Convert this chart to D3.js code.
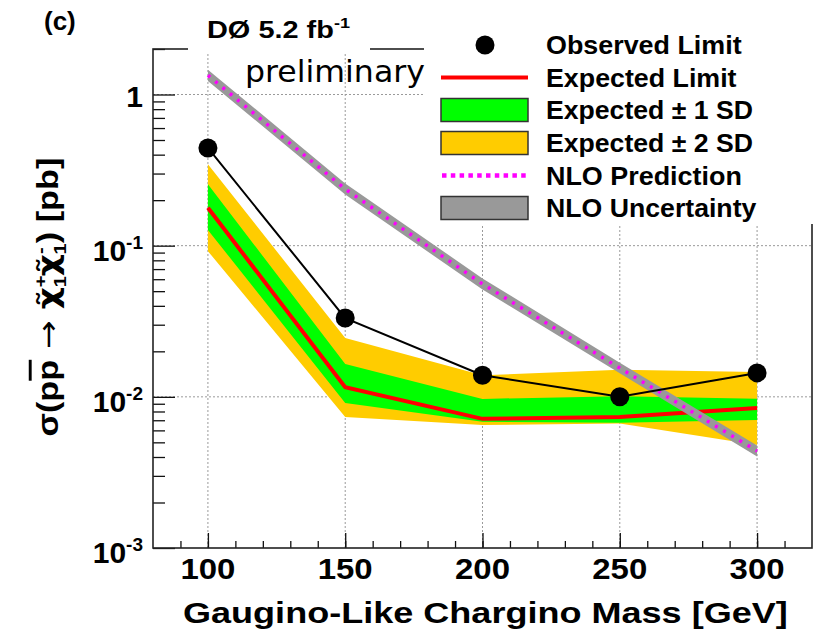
<!DOCTYPE html>
<html>
<head>
<meta charset="utf-8">
<script src="https://cdn.jsdelivr.net/npm/d3@7"></script>
<style>
  html, body { margin: 0; padding: 0; background: #fff; }
  svg { display: block; }
  text { font-family: "Liberation Sans", Arial, Helvetica, sans-serif; }
</style>
</head>
<body>
<svg id="chart" width="817" height="629"></svg>
<script>
// Chargino mass points [GeV]
const masses = [100, 150, 200, 250, 300];
// 95% CL cross-section limits [pb]
const observed  = [0.443, 0.0332, 0.0139, 0.0100, 0.0144];
const expected  = [0.178, 0.0116, 0.00715, 0.00736, 0.00845];
const sd1Low    = [0.127, 0.00912, 0.00683, 0.00673, 0.00703];
const sd1High   = [0.255, 0.0165, 0.00969, 0.0101, 0.0097];
const sd2Low    = [0.092, 0.00736, 0.00652, 0.00665, 0.00481];
const sd2High   = [0.346, 0.0245, 0.0139, 0.0151, 0.0146];
// NLO theory prediction and its uncertainty band [pb]
const nlo       = [1.34, 0.237, 0.0558, 0.0155, 0.00438];
const nloLow    = [1.23, 0.218, 0.0513, 0.0143, 0.00403];
const nloHigh   = [1.46, 0.258, 0.0607, 0.0168, 0.00476];
// Axis tick labels
const xTickValues = [100, 150, 200, 250, 300];
const yTickValues = [1, 0.1, 0.01, 0.001];
const yTickMant   = ["1", "10", "10", "10"];
const yTickExp    = ["", "-1", "-2", "-3"];
// Legend entries
const legendLabels = ["Observed Limit", "Expected Limit", "Expected \u00b1 1 SD",
                      "Expected \u00b1 2 SD", "NLO Prediction", "NLO Uncertainty"];

const svg = d3.select("#chart");
const L = 153, R = 812, T = 49, B = 548;

const x = d3.scaleLinear().domain([80, 320]).range([L, R]);
const y = d3.scaleLog().domain([1e-3, 2]).range([B, T]);

const pts = masses.map((m, i) => ({
  m, obs: observed[i], exp: expected[i],
  s1l: sd1Low[i], s1h: sd1High[i], s2l: sd2Low[i], s2h: sd2High[i],
  nlo: nlo[i], nl: nloLow[i], nh: nloHigh[i]
}));

// grid
const grid = svg.append("g").attr("stroke", "#9a9a9a").attr("stroke-width", 1)
  .attr("stroke-dasharray", "2,2");
xTickValues.forEach(v => grid.append("line")
  .attr("x1", x(v)).attr("x2", x(v)).attr("y1", B).attr("y2", T));
yTickValues.slice(0, 3).forEach(v => grid.append("line")
  .attr("x1", L).attr("x2", R).attr("y1", y(v)).attr("y2", y(v)));

// expected bands
const band = (lo, hi) => d3.area().x(d => x(d.m)).y0(d => y(d[lo])).y1(d => y(d[hi]));
svg.append("path").datum(pts).attr("d", band("s2l", "s2h")).attr("fill", "#ffcc00");
svg.append("path").datum(pts).attr("d", band("s1l", "s1h")).attr("fill", "#00ff00");

// expected limit
svg.append("path").datum(pts)
  .attr("d", d3.line().x(d => x(d.m)).y(d => y(d.exp)))
  .attr("fill", "none").attr("stroke", "#ff0000").attr("stroke-width", 4);

// NLO prediction
svg.append("path").datum(pts).attr("d", band("nl", "nh")).attr("fill", "#999999");
svg.append("path").datum(pts)
  .attr("d", d3.line().x(d => x(d.m)).y(d => y(d.nlo)))
  .attr("fill", "none").attr("stroke", "#ff00ff").attr("stroke-width", 3.5)
  .attr("stroke-dasharray", "3,6.5");

// observed limit
svg.append("path").datum(pts)
  .attr("d", d3.line().x(d => x(d.m)).y(d => y(d.obs)))
  .attr("fill", "none").attr("stroke", "#000").attr("stroke-width", 2);
svg.append("g").selectAll("circle").data(pts).join("circle")
  .attr("cx", d => x(d.m)).attr("cy", d => y(d.obs)).attr("r", 9.5).attr("fill", "#000");

// axes: ticks drawn inward
const minorY = [];
[1e-3, 1e-2, 1e-1, 1].forEach(dec => d3.range(2, 10).forEach(k => {
  const v = dec * k; if (v <= 2) minorY.push(v);
}));
const yMinor = svg.append("g").attr("transform", `translate(${L},0)`)
  .call(d3.axisLeft(y).tickValues(minorY).tickSize(-12).tickFormat(""));
const yMajor = svg.append("g").attr("transform", `translate(${L},0)`)
  .call(d3.axisLeft(y).tickValues(yTickValues).tickSize(-22).tickFormat(""));
const xMinor = svg.append("g").attr("transform", `translate(0,${B})`)
  .call(d3.axisBottom(x).tickValues(d3.range(90, 320, 10)).tickSize(-7).tickFormat(""));
const xMajor = svg.append("g").attr("transform", `translate(0,${B})`)
  .call(d3.axisBottom(x).tickValues(xTickValues).tickSize(-15).tickFormat(""));
[yMinor, yMajor, xMinor, xMajor].forEach(g => {
  g.select(".domain").remove();
  g.selectAll(".tick line").attr("stroke", "#111").attr("stroke-width", 1.3);
});

// frame
svg.append("rect").attr("x", L).attr("y", T).attr("width", R - L).attr("height", B - T)
  .attr("fill", "none").attr("stroke", "#222").attr("stroke-width", 1.6);

// boxes behind the title and the legend
svg.append("rect").attr("x", 188).attr("y", 8).attr("width", 182).attr("height", 44).attr("fill", "#fff");
svg.append("rect").attr("x", 424).attr("y", 18).attr("width", 393).attr("height", 206).attr("fill", "#fff");

// stretch a text element horizontally to a given width
function fit(t, x0, y0, w, anchor) {
  const bw = t.node().getBBox().width;
  const k = w / bw;
  const sx = anchor === "middle" ? x0 - w / 2 : anchor === "end" ? x0 - w : x0;
  t.attr("transform", `translate(${sx},${y0}) scale(${k},1)`);
}

// tick labels
xTickValues.forEach(v => {
  const t = svg.append("text").attr("font-weight", "bold").attr("font-size", 30)
    .attr("fill", "#000").text(v);
  fit(t, x(v), 579, 55, "middle");
});
yTickValues.forEach((v, i) => {
  const t = svg.append("text").attr("font-weight", "bold").attr("font-size", 30)
    .attr("text-anchor", "end").attr("fill", "#000")
    .attr("x", 143).attr("y", y(v) + (i === 0 ? 12 : 15));
  t.append("tspan").text(yTickMant[i]);
  if (yTickExp[i]) t.append("tspan").attr("font-size", 19).attr("dy", -12).text(yTickExp[i]);
});

// axis titles
const xt = svg.append("text").attr("font-weight", "bold").attr("font-size", 30)
  .attr("fill", "#000").text("Gaugino-Like Chargino Mass [GeV]");
fit(xt, 183, 623, 605, "start");

const greek = "'DejaVu Sans', sans-serif";
const yt = svg.append("text").attr("font-weight", "bold").attr("font-size", 29).attr("fill", "#000");
yt.append("tspan").text("\u03c3(p");
yt.append("tspan").style("text-decoration", "overline").text("p");
yt.append("tspan").style("font-family", greek).attr("font-weight", "normal").text(" \u2192 ");
yt.append("tspan").style("font-family", greek).text("\u03c7\u0303");
yt.append("tspan").attr("font-size", 17).attr("dy", -12).text("+");
yt.append("tspan").attr("font-size", 17).attr("dx", -10).attr("dy", 20).text("1");
yt.append("tspan").style("font-family", greek).attr("dy", -8).text("\u03c7\u0303");
yt.append("tspan").attr("font-size", 17).attr("dy", -12).text("-");
yt.append("tspan").attr("font-size", 17).attr("dx", -6).attr("dy", 20).text("1");
yt.append("tspan").attr("dy", -8).text(") [pb]");
{
  const bw = yt.node().getBBox().width, w = 279;
  yt.attr("transform", `translate(58,297) rotate(-90) translate(${-w / 2},0) scale(${w / bw},1)`);
}

// labels
svg.append("text").attr("x", 44).attr("y", 30).attr("font-weight", "bold").attr("font-size", 26)
  .attr("fill", "#000").text("(c)");
const tt = svg.append("text").attr("font-weight", "bold").attr("font-size", 24).attr("fill", "#000");
tt.append("tspan").text("D\u00d8 5.2 fb");
tt.append("tspan").attr("font-size", 15).attr("dy", -10).text("-1");
fit(tt, 207, 38, 143, "start");
const pr = svg.append("text").style("font-family", "'DejaVu Sans', Verdana, sans-serif")
  .attr("font-size", 30).attr("fill", "#000").text("preliminary");
fit(pr, 245, 82, 180, "start");

// legend
const rowY = [45, 77.5, 110, 143, 175.5, 208];
const legendW = [196, 191, 207, 207, 196, 211];
const lg = svg.append("g");
lg.append("circle").attr("cx", 485).attr("cy", rowY[0]).attr("r", 9.5).attr("fill", "#000");
lg.append("line").attr("x1", 441).attr("x2", 528).attr("y1", rowY[1]).attr("y2", rowY[1])
  .attr("stroke", "#ff0000").attr("stroke-width", 4);
[["#00ff00", 2], ["#ffcc00", 3], ["#999999", 5]].forEach(([c, i]) =>
  lg.append("rect").attr("x", 441).attr("y", rowY[i] - 11.5).attr("width", 87).attr("height", 23)
    .attr("fill", c).attr("stroke", "#333").attr("stroke-width", 1.5));
lg.append("line").attr("x1", 442).attr("x2", 528).attr("y1", rowY[4]).attr("y2", rowY[4])
  .attr("stroke", "#ff00ff").attr("stroke-width", 4.5).attr("stroke-dasharray", "4.5,4.3");
legendLabels.forEach((s, i) => {
  const t = lg.append("text").attr("font-weight", "bold").attr("font-size", 26)
    .attr("fill", "#000").text(s);
  fit(t, 546, rowY[i] + 9, legendW[i], "start");
});
</script>
</body>
</html>
